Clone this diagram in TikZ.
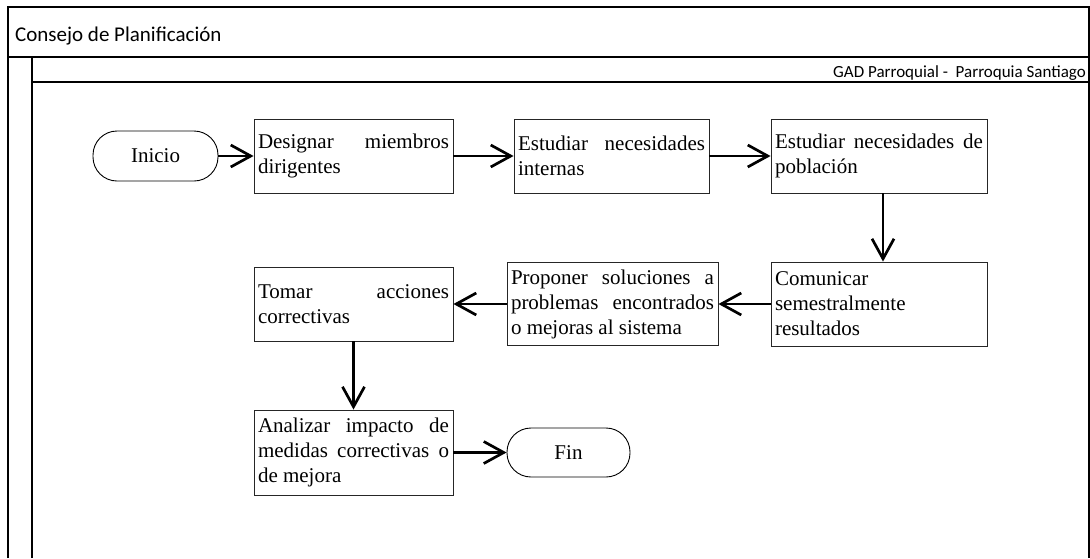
\documentclass[tikz,border=0pt]{standalone}
\usepackage{fontspec}
\setmainfont{Liberation Serif}
\newfontfamily\calib{Carlito}
\usetikzlibrary{arrows.meta}
\hyphenpenalty=10000
\exhyphenpenalty=10000
\tolerance=9999
\hbadness=10000
\begin{document}
\begin{tikzpicture}[x=1pt,y=-1pt,
  frame/.style={draw=black, line width=1.4pt},
  box/.style={draw=black!85, line width=0.9pt, rectangle, inner xsep=4pt, inner ysep=0pt,
    align=justify, font=\fontsize{21}{25}\selectfont},
  term/.style={draw=black, line width=0.9pt, rounded corners=24pt, inner sep=0pt,
    font=\fontsize{21}{25}\selectfont},
  arr/.style={line width=2.7pt, -{Straight Barb[length=20pt,width=22pt]}}]
\useasboundingbox (0,0) rectangle (1090,558);
% pool and lane frames
\draw[frame] (8,558) -- (8,7) -- (1089,7) -- (1089,558);
\draw[frame] (8,57) -- (1089,57);
\draw[frame] (32,558) -- (32,57);
\draw[frame] (32,82) -- (1089,82);
\node[anchor=base west, inner sep=0pt, font=\calib\fontsize{21}{25}\selectfont] (pool) at (15,41) {Consejo de Planificación};
\node[anchor=base east, inner sep=0pt, font=\calib\fontsize{17}{20}\selectfont] (lane) at (1086,77) {GAD Parroquial -\ \ Parroquia Santiago};
% nodes
\node[term, minimum width=125pt, minimum height=50pt] (ini) at (155.5,156) {Inicio};
\node[box, text width=191pt, minimum height=74pt] (des) at (353.5,156) {Designar miembros dirigentes};
\node[box, text width=187pt, minimum height=74pt] (inn) at (611.5,156) {Estudiar necesidades internas};
\node[box, text width=208pt, minimum height=74pt] (pob) at (879,156) {Estudiar necesidades de población};
\node[box, text width=208pt, minimum height=84pt] (com) at (879,304) {Comunicar semestralmente resultados};
\node[box, text width=203pt, minimum height=83pt] (pro) at (612.5,304) {Proponer soluciones a problemas encontrados o mejoras al sistema};
\node[box, text width=191pt, minimum height=74pt] (tom) at (353.5,304) {Tomar acciones correctivas};
\node[box, text width=191pt, minimum height=85pt] (ana) at (353.5,452.5) {Analizar impacto de medidas correctivas o de mejora};
\node[term, minimum width=123pt, minimum height=49pt] (fin) at (568.5,452.5) {Fin};
% connectors
\draw[arr] (ini.east) -- (des.west);
\draw[arr] (des.east) -- (inn.west);
\draw[arr] (inn.east) -- (pob.west);
\draw[arr] ([xshift=4pt]pob.south) -- ([xshift=4pt]com.north);
\draw[arr] (com.west) -- (pro.east);
\draw[arr] (pro.west) -- (tom.east);
\draw[arr] (tom.south) -- (ana.north);
\draw[arr] (ana.east) -- (fin.west);
\end{tikzpicture}
\end{document}
